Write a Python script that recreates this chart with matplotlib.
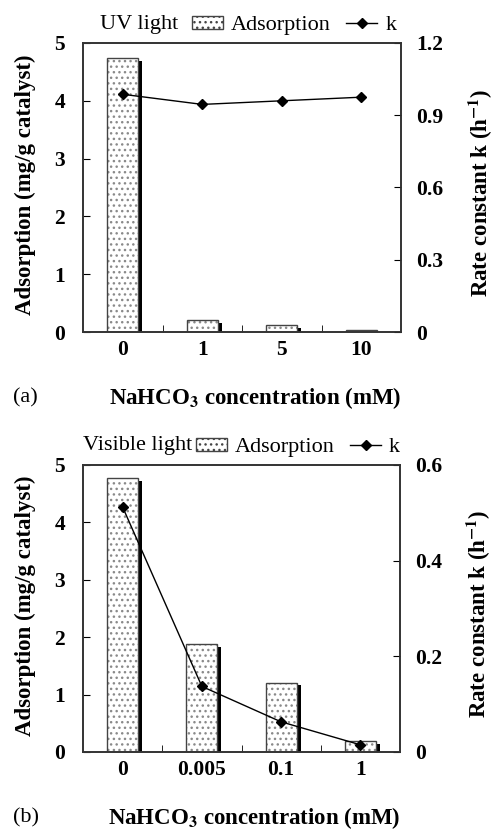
import numpy as np
import matplotlib
matplotlib.use("Agg")
import matplotlib.pyplot as plt
from matplotlib.patches import Patch
from matplotlib.lines import Line2D

plt.rcParams["font.family"] = ["Liberation Serif", "DejaVu Serif"]
plt.rcParams["mathtext.fontset"] = "stix"
plt.rcParams["hatch.color"] = "#8a8a8a"
plt.rcParams["hatch.linewidth"] = 1.0

# panel (a): UV light
uv_conc = ["0", "1", "5", "10"]
uv_ads = [4.74, 0.20, 0.12, 0.03]
uv_k = [0.987, 0.945, 0.960, 0.975]

# panel (b): visible light
vis_conc = ["0", "0.005", "0.1", "1"]
vis_ads = [4.77, 1.88, 1.21, 0.19]
vis_k = [0.512, 0.137, 0.063, 0.015]

TICK_FS = 15.5
LABEL_FS = 16.5
LEG_FS = 16


def draw_panel(fig, rect, conc, ads, k, kmax, kstep, leg_x):
    ax = fig.add_axes(rect)
    x = np.arange(len(conc))
    w = 0.39
    ads = np.array(ads)

    # shadow, hatched face, outline
    ax.bar(x + 0.05, np.clip(ads - 0.05, 0, None), w, color="black", zorder=1)
    ax.bar(x, ads, w, color="white", hatch="...", zorder=2)
    ax.bar(x, ads, w, fill=False, edgecolor="#444444", linewidth=1.0, zorder=3)

    ax.set_xlim(-0.5, len(conc) - 0.5)
    ax.set_ylim(0, 5)
    ax.set_yticks(range(6))
    ax.set_xticks(x)
    ax.set_xticklabels(conc)
    ax.set_xticks(x[:-1] + 0.5, minor=True)
    ax.tick_params(axis="x", which="major", length=0, pad=6, labelsize=TICK_FS)
    ax.tick_params(axis="x", which="minor", direction="in", length=5)
    ax.tick_params(axis="y", direction="in", length=5, pad=13, labelsize=TICK_FS)
    for lab in ax.get_xticklabels() + ax.get_yticklabels():
        lab.set_fontweight("bold")
    for sp in ax.spines.values():
        sp.set_linewidth(1.2)
        sp.set_color("#333333")

    ax.set_ylabel("Adsorption (mg/g catalyst)", fontsize=LABEL_FS, fontweight="bold",
                  va="center")
    ax.yaxis.set_label_coords(-0.182, 0.51)
    ax.set_xlabel(r"NaHCO$_\mathbf{3}$ concentration (mM)", fontsize=LABEL_FS,
                  fontweight="bold", va="center")
    ax.xaxis.set_label_coords(0.54, -0.23)

    ax2 = ax.twinx()
    ax2.plot(x, k, color="black", marker="D", markersize=5, linewidth=1.0, zorder=5)
    ax2.set_ylim(0, kmax)
    ticks = np.arange(0, kmax + kstep / 2, kstep)
    ax2.set_yticks(ticks)
    ax2.set_yticklabels(["0"] + ["%g" % t for t in ticks[1:]])
    ax2.tick_params(axis="y", direction="in", length=5, pad=11, labelsize=TICK_FS)
    for lab in ax2.get_yticklabels():
        lab.set_fontweight("bold")
    ax2.set_ylabel(r"Rate constant k (h$^{\mathbf{-1}}$)", fontsize=LABEL_FS,
                   fontweight="bold", rotation=90, va="center")
    ax2.yaxis.set_label_coords(1.25, 0.48)
    for sp in ax2.spines.values():
        sp.set_linewidth(1.2)
        sp.set_color("#333333")

    handles = [Patch(facecolor="white", edgecolor="#444444", hatch="...", linewidth=1.0),
               Line2D([], [], color="black", marker="D", markersize=5, linewidth=1.0)]
    ax2.legend(handles, ["Adsorption", "k"], ncol=2, loc="center right",
               bbox_to_anchor=(leg_x, 1.06), frameon=False, fontsize=LEG_FS,
               borderpad=0, handlelength=1.4, handletextpad=0.35, columnspacing=0.7,
               handleheight=0.5)
    return ax, ax2


fig = plt.figure(figsize=(4.95, 8.30), dpi=100)

draw_panel(fig, [0.1677, 0.600, 0.6424, 0.3482], uv_conc, uv_ads, uv_k, 1.2, 0.3, 1.02)
fig.text(100 / 495, 1 - 24 / 830, "UV light", fontsize=LEG_FS, va="center", ha="left")
fig.text(13 / 495, 1 - 398 / 830, "(a)", fontsize=LEG_FS, va="center", ha="left")

draw_panel(fig, [0.1677, 0.094, 0.6404, 0.3458], vis_conc, vis_ads, vis_k, 0.6, 0.2, 1.035)
fig.text(83 / 495, 1 - 445 / 830, "Visible light", fontsize=LEG_FS, va="center", ha="left")
fig.text(13 / 495, 1 - 818 / 830, "(b)", fontsize=LEG_FS, va="center", ha="left")

fig.savefig("out.png", dpi=100)
